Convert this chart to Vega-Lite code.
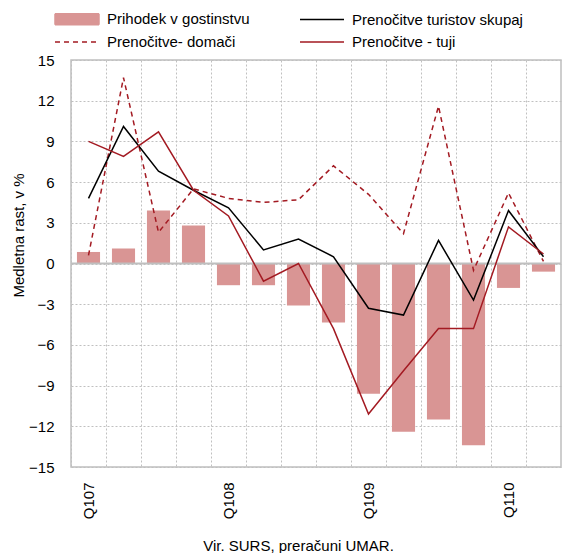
{
  "$schema": "https://vega.github.io/schema/vega-lite/v6.json",
  "width": 490,
  "height": 407,
  "autosize": {"type": "none"},
  "padding": {"left": 71, "top": 60, "right": 8, "bottom": 86},
  "config": {
    "font": "Liberation Sans",
    "view": {"stroke": "#bfbfbf", "strokeWidth": 1.5},
    "axis": {"labelColor": "#000000", "titleColor": "#000000", "labelFontSize": 15, "titleFontSize": 15, "titleFontWeight": "normal"},
    "legend": {"labelColor": "#000000", "labelFontSize": 15, "labelLimit": 300}
  },
  "datasets": {
    "main": [
      {"q": "Q107", "s": "Prihodek v gostinstvu", "v": 0.85},
      {"q": "Q207", "s": "Prihodek v gostinstvu", "v": 1.1},
      {"q": "Q307", "s": "Prihodek v gostinstvu", "v": 3.9},
      {"q": "Q407", "s": "Prihodek v gostinstvu", "v": 2.8},
      {"q": "Q108", "s": "Prihodek v gostinstvu", "v": -1.6},
      {"q": "Q208", "s": "Prihodek v gostinstvu", "v": -1.6},
      {"q": "Q308", "s": "Prihodek v gostinstvu", "v": -3.1},
      {"q": "Q408", "s": "Prihodek v gostinstvu", "v": -4.35},
      {"q": "Q109", "s": "Prihodek v gostinstvu", "v": -9.6},
      {"q": "Q209", "s": "Prihodek v gostinstvu", "v": -12.4},
      {"q": "Q309", "s": "Prihodek v gostinstvu", "v": -11.5},
      {"q": "Q409", "s": "Prihodek v gostinstvu", "v": -13.4},
      {"q": "Q110", "s": "Prihodek v gostinstvu", "v": -1.8},
      {"q": "Q210", "s": "Prihodek v gostinstvu", "v": -0.6},
      {"q": "Q107", "s": "Prenočitve turistov skupaj", "v": 4.8},
      {"q": "Q207", "s": "Prenočitve turistov skupaj", "v": 10.1},
      {"q": "Q307", "s": "Prenočitve turistov skupaj", "v": 6.8},
      {"q": "Q407", "s": "Prenočitve turistov skupaj", "v": 5.4},
      {"q": "Q108", "s": "Prenočitve turistov skupaj", "v": 4.1},
      {"q": "Q208", "s": "Prenočitve turistov skupaj", "v": 1.0},
      {"q": "Q308", "s": "Prenočitve turistov skupaj", "v": 1.8},
      {"q": "Q408", "s": "Prenočitve turistov skupaj", "v": 0.5},
      {"q": "Q109", "s": "Prenočitve turistov skupaj", "v": -3.3},
      {"q": "Q209", "s": "Prenočitve turistov skupaj", "v": -3.8},
      {"q": "Q309", "s": "Prenočitve turistov skupaj", "v": 1.7},
      {"q": "Q409", "s": "Prenočitve turistov skupaj", "v": -2.7},
      {"q": "Q110", "s": "Prenočitve turistov skupaj", "v": 3.9},
      {"q": "Q210", "s": "Prenočitve turistov skupaj", "v": 0.5},
      {"q": "Q107", "s": "Prenočitve- domači", "v": 0.6},
      {"q": "Q207", "s": "Prenočitve- domači", "v": 13.7},
      {"q": "Q307", "s": "Prenočitve- domači", "v": 2.3},
      {"q": "Q407", "s": "Prenočitve- domači", "v": 5.5},
      {"q": "Q108", "s": "Prenočitve- domači", "v": 4.8},
      {"q": "Q208", "s": "Prenočitve- domači", "v": 4.5},
      {"q": "Q308", "s": "Prenočitve- domači", "v": 4.7},
      {"q": "Q408", "s": "Prenočitve- domači", "v": 7.2},
      {"q": "Q109", "s": "Prenočitve- domači", "v": 5.1},
      {"q": "Q209", "s": "Prenočitve- domači", "v": 2.2},
      {"q": "Q309", "s": "Prenočitve- domači", "v": 11.6},
      {"q": "Q409", "s": "Prenočitve- domači", "v": -0.5},
      {"q": "Q110", "s": "Prenočitve- domači", "v": 5.2},
      {"q": "Q210", "s": "Prenočitve- domači", "v": 0.15},
      {"q": "Q107", "s": "Prenočitve - tuji", "v": 9.0},
      {"q": "Q207", "s": "Prenočitve - tuji", "v": 7.9},
      {"q": "Q307", "s": "Prenočitve - tuji", "v": 9.7},
      {"q": "Q407", "s": "Prenočitve - tuji", "v": 5.4},
      {"q": "Q108", "s": "Prenočitve - tuji", "v": 3.5},
      {"q": "Q208", "s": "Prenočitve - tuji", "v": -1.3},
      {"q": "Q308", "s": "Prenočitve - tuji", "v": 0.0},
      {"q": "Q408", "s": "Prenočitve - tuji", "v": -4.8},
      {"q": "Q109", "s": "Prenočitve - tuji", "v": -11.1},
      {"q": "Q209", "s": "Prenočitve - tuji", "v": -7.9},
      {"q": "Q309", "s": "Prenočitve - tuji", "v": -4.8},
      {"q": "Q409", "s": "Prenočitve - tuji", "v": -4.8},
      {"q": "Q110", "s": "Prenočitve - tuji", "v": 2.7},
      {"q": "Q210", "s": "Prenočitve - tuji", "v": 0.7}
    ],
    "zero": [{"z": 0}]
  },
  "data": {"name": "main"},
  "layer": [
    {
      "transform": [{"filter": "datum.s === 'Prihodek v gostinstvu'"}],
      "mark": {"type": "bar", "width": {"band": 0.66}},
      "encoding": {
        "x": {
          "field": "q", "type": "nominal",
          "scale": {"domain": ["Q107","Q207","Q307","Q407","Q108","Q208","Q308","Q408","Q109","Q209","Q309","Q409","Q110","Q210"], "paddingInner": 0, "paddingOuter": 0},
          "axis": {
            "title": "Vir. SURS, preračuni UMAR.",
            "titleX": 227, "titleY": 83, "titleAlign": "center", "titleBaseline": "alphabetic", "titleAnchor": null,
            "labelAngle": 270, "labelAlign": "right", "labelBaseline": "middle", "labelPadding": 15,
            "labelExpr": "slice(datum.value, 0, 2) == 'Q1' ? datum.value : ''",
            "labelOverlap": false,
            "bandPosition": 0, "labelOffset": 0,
            "ticks": false, "domain": false,
            "grid": true, "gridDash": [2, 2], "gridColor": "#c0c0c0", "gridWidth": 1
          }
        },
        "y": {
          "field": "v", "type": "quantitative",
          "scale": {"domain": [-15, 15], "nice": false, "zero": false},
          "axis": {
            "values": [-15, -12, -9, -6, -3, 0, 3, 6, 9, 12, 15],
            "title": "Medletna rast, v %",
            "titleX": -53, "titleY": 175, "titleAngle": 270, "titleAlign": "center", "titleBaseline": "middle",
            "labelPadding": 17, "ticks": false, "domain": false,
            "grid": true, "gridDash": [2, 2], "gridColor": "#c0c0c0", "gridWidth": 1
          }
        },
        "color": {
          "field": "s", "type": "nominal",
          "scale": {
            "domain": ["Prihodek v gostinstvu", "Prenočitve turistov skupaj", "Prenočitve- domači", "Prenočitve - tuji"],
            "range": ["#d99594", "#000000", "#a31a22", "#a31a22"]
          },
          "legend": {
            "orient": "none", "legendX": -6, "legendY": -53,
            "direction": "horizontal", "columns": 2, "title": null,
            "symbolSize": 484, "labelOffset": 18, "rowPadding": 2, "columnPadding": 47, "padding": 0,
            "labelLimit": 300,
            "encode": {
              "symbols": {
                "update": {
                  "shape": {"signal": "datum.value === 'Prihodek v gostinstvu' ? 'M-2,-0.5H2V0.5H-2Z' : 'M-2,0H2'"},
                  "fill": {"signal": "datum.value === 'Prihodek v gostinstvu' ? '#d99594' : 'transparent'"},
                  "stroke": {"signal": "datum.value === 'Prihodek v gostinstvu' ? 'transparent' : (datum.value === 'Prenočitve turistov skupaj' ? '#000000' : '#a31a22')"},
                  "strokeDash": {"signal": "datum.value === 'Prenočitve- domači' ? [5, 4] : [1, 0]"},
                  "strokeWidth": {"value": 1.5},
                  "opacity": {"value": 1}
                }
              }
            }
          }
        }
      }
    },
    {
      "data": {"name": "zero"},
      "mark": {"type": "rule", "color": "#bfbfbf", "strokeWidth": 2},
      "encoding": {"y": {"datum": 0, "type": "quantitative"}}
    },
    {
      "transform": [{"filter": "datum.s === 'Prenočitve- domači'"}],
      "mark": {"type": "line", "strokeWidth": 1.5, "strokeDash": [5, 4]},
      "encoding": {
        "x": {"field": "q", "type": "nominal"},
        "y": {"field": "v", "type": "quantitative"},
        "color": {"field": "s", "type": "nominal"}
      }
    },
    {
      "transform": [{"filter": "datum.s === 'Prenočitve - tuji' || datum.s === 'Prenočitve turistov skupaj'"}],
      "mark": {"type": "line", "strokeWidth": 1.5},
      "encoding": {
        "x": {"field": "q", "type": "nominal"},
        "y": {"field": "v", "type": "quantitative"},
        "color": {"field": "s", "type": "nominal"}
      }
    }
  ]
}
